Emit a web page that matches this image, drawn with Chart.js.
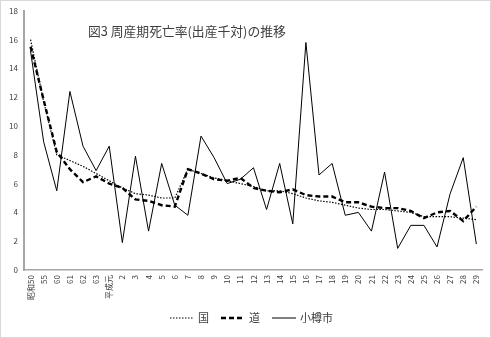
<!DOCTYPE html>
<html>
<head>
<meta charset="utf-8">
<script src="https://cdn.jsdelivr.net/npm/chart.js@4"></script>
<style>
  html, body { margin: 0; padding: 0; background: #fff; }
  #wrap { width: 491px; height: 338px; }
</style>
</head>
<body>
<div id="wrap"><canvas id="perinatalChart"></canvas></div>
<script>
const years = ['昭和50', '55', '60', '61', '62', '63', '平成元', '2', '3', '4', '5', '6', '7', '8', '9', '10',
  '11', '12', '13', '14', '15', '16', '17', '18', '19', '20', '21', '22', '23', '24', '25', '26', '27', '28', '29'];
const yTicks = [0, 2, 4, 6, 8, 10, 12, 14, 16, 18];

// 周産期死亡率（出産千対）
const kuni = [16.0, 11.7, 8.0, 7.6, 7.2, 6.7, 6.2, 5.7, 5.3, 5.2, 5.0, 5.0, 7.0, 6.7, 6.4, 6.2, 6.0, 5.8,
  5.5, 5.5, 5.3, 5.0, 4.8, 4.7, 4.5, 4.3, 4.2, 4.2, 4.1, 4.0, 3.7, 3.7, 3.7, 3.6, 3.5];
const dou = [15.5, 11.8, 8.2, 7.0, 6.1, 6.5, 6.0, 5.7, 4.9, 4.8, 4.5, 4.4, 7.0, 6.7, 6.3, 6.2, 6.4, 5.7,
  5.5, 5.4, 5.6, 5.2, 5.1, 5.1, 4.7, 4.7, 4.4, 4.3, 4.3, 4.1, 3.6, 4.0, 4.1, 3.4, 4.4];
const otaru = [15.2, 8.9, 5.5, 12.4, 8.6, 6.9, 8.6, 1.9, 7.9, 2.7, 7.4, 4.5, 3.8, 9.3, 7.8, 6.0, 6.3, 7.1,
  4.2, 7.4, 3.2, 15.8, 6.6, 7.4, 3.8, 4.0, 2.7, 6.8, 1.5, 3.1, 3.1, 1.6, 5.3, 7.8, 1.8];

const FONT = '"Noto Sans CJK JP", "Noto Sans", sans-serif';

// タイトル・凡例・外枠
const decor = {
  id: 'decor',
  afterDraw(chart) {
    const ctx = chart.ctx;
    ctx.save();
    ctx.strokeStyle = '#d9d9d9';
    ctx.lineWidth = 1;
    ctx.strokeRect(0.5, 0.5, chart.width - 1, chart.height - 1);

    ctx.fillStyle = '#404040';
    ctx.font = '12.8px ' + FONT;
    ctx.textBaseline = 'middle';
    ctx.fillText('図3 周産期死亡率(出産千対)の推移', 88, 31);

    // 凡例
    ctx.font = '11px ' + FONT;
    const y = 318;
    let x = 170;
    chart.data.datasets.forEach(ds => {
      ctx.beginPath();
      ctx.setLineDash(ds.borderDash || []);
      ctx.lineWidth = ds.borderWidth;
      ctx.strokeStyle = ds.borderColor;
      ctx.moveTo(x, y);
      ctx.lineTo(x + 24, y);
      ctx.stroke();
      ctx.setLineDash([]);
      ctx.fillText(ds.label, x + 28, y);
      x += 28 + ctx.measureText(ds.label).width + 12;
    });
    ctx.restore();
  }
};

new Chart(document.getElementById('perinatalChart'), {
  type: 'line',
  data: {
    labels: years,
    datasets: [
      { label: '国', data: kuni, borderColor: '#000', borderWidth: 1.2,
        borderDash: [1.5, 1.5], pointRadius: 0, tension: 0 },
      { label: '道', data: dou, borderColor: '#000', borderWidth: 2.4,
        borderDash: [5, 3], pointRadius: 0, tension: 0 },
      { label: '小樽市', data: otaru, borderColor: '#000', borderWidth: 1,
        pointRadius: 0, tension: 0 }
    ]
  },
  options: {
    responsive: true,
    maintainAspectRatio: false,
    animation: false,
    layout: { padding: { left: 4, right: 3, top: 10, bottom: 28 } },
    plugins: {
      tooltip: { enabled: false },
      legend: { display: false }
    },
    scales: {
      x: {
        offset: true,
        grid: { display: false, drawTicks: false },
        border: { color: '#a6a6a6', width: 1.5 },
        ticks: {
          autoSkip: false,
          minRotation: 90,
          maxRotation: 90,
          padding: 5,
          color: '#404040',
          font: { family: FONT, size: 8 }
        },
        afterFit(scale) { scale.height = 40; }
      },
      y: {
        min: 0,
        max: 18,
        grid: { display: false, drawTicks: false },
        border: { color: '#a6a6a6', width: 2 },
        afterBuildTicks(scale) { scale.ticks = yTicks.map(v => ({ value: v })); },
        ticks: {
          padding: 6,
          color: '#404040',
          font: { family: FONT, size: 8 }
        },
        afterFit(scale) { scale.width = 20; }
      }
    }
  },
  plugins: [decor]
});
</script>
</body>
</html>
